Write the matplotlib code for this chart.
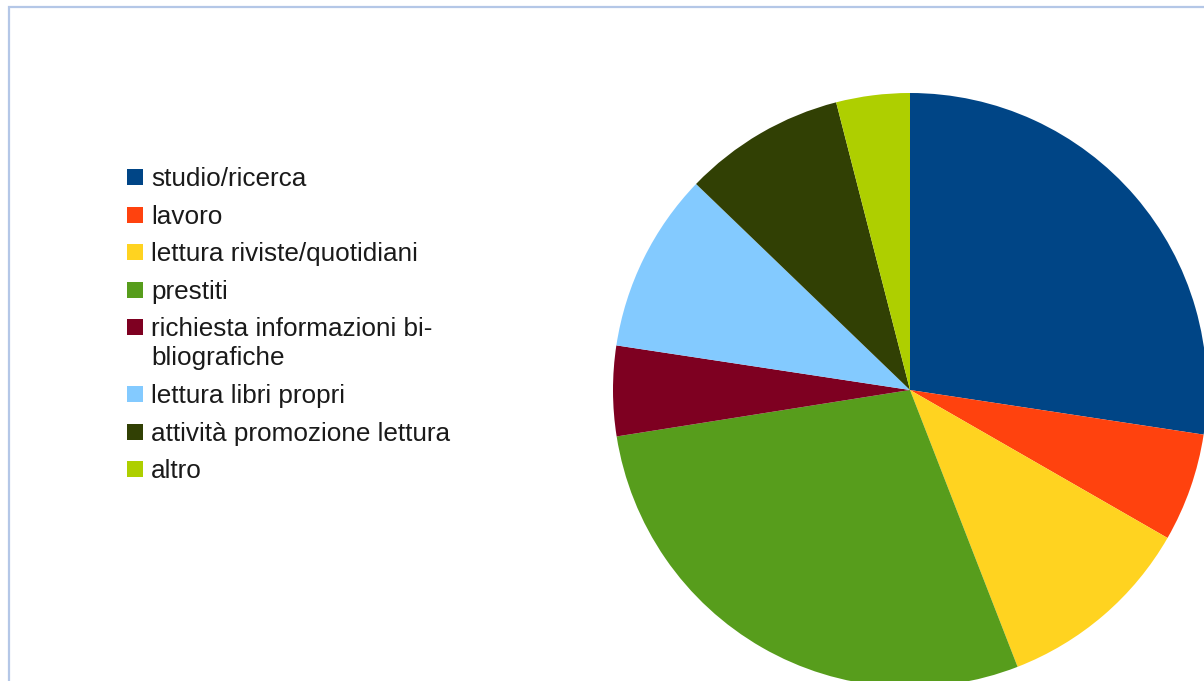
import matplotlib
matplotlib.use("Agg")
import matplotlib.pyplot as plt
from matplotlib.patches import Rectangle

labels = ["studio/ricerca", "lavoro", "lettura riviste/quotidiani", "prestiti",
          "richiesta informazioni bi-\nbliografiche", "lettura libri propri",
          "attività promozione lettura", "altro"]
values = [27.4, 5.9, 10.8, 28.4, 4.9, 9.8, 8.8, 4.0]
colors = ["#004586", "#ff420e", "#ffd320", "#579d1c", "#7e0021",
          "#83caff", "#314004", "#aecf00"]

W, H = 1204, 681
fig = plt.figure(figsize=(W / 100, H / 100), dpi=100)
fig.patch.set_facecolor("white")

# chart frame (goes off the right/bottom edge)
fig.patches.append(Rectangle((8.5 / W, -0.1), 1.2, 1 - 7 / H + 0.1,
                             transform=fig.transFigure, fill=False,
                             edgecolor="#b4c7e7", linewidth=1.6))

# pie: center (910, 390) px, radius ~297 px
cx, cy, r = 910, 390, 297
ax = fig.add_axes([(cx - r) / W, (H - cy - r) / H, 2 * r / W, 2 * r / H])
ax.pie(values, colors=colors, startangle=90, counterclock=False, radius=1,
       wedgeprops=dict(linewidth=0))
ax.set_xlim(-1, 1)
ax.set_ylim(-1, 1)
ax.set_aspect("auto")
ax.axis("off")

# legend drawn by hand
y = 177
for lab, col in zip(labels, colors):
    fig.patches.append(Rectangle((127 / W, (H - y - 8) / H), 16 / W, 16 / H,
                                 transform=fig.transFigure, facecolor=col,
                                 edgecolor="none"))
    for k, line in enumerate(lab.split("\n")):
        fig.text(151 / W, (H - y - k * 29 - 2) / H, line, ha="left", va="center",
                 fontsize=18.8, family="Liberation Sans", color="#1a1a1a")
    y += 37.6 + 29 * lab.count("\n")

fig.savefig("out.png", dpi=100)
